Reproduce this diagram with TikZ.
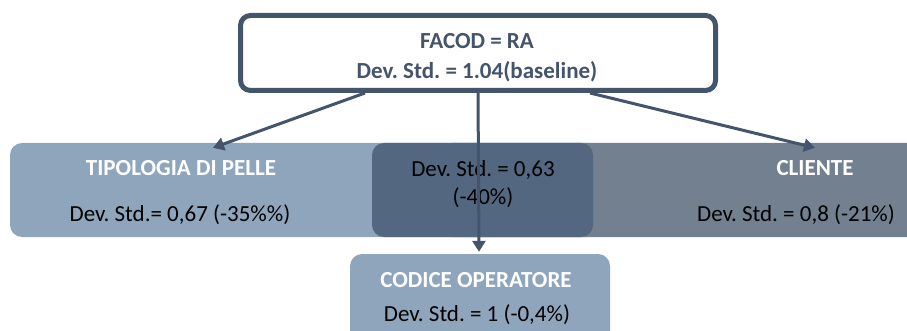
\documentclass[tikz,border=0pt]{standalone}
\usepackage{fontspec}
\setmainfont{Carlito}
\usetikzlibrary{arrows.meta}
\definecolor{slate}{RGB}{68,84,106}
\definecolor{steel}{RGB}{142,165,188}
\definecolor{dusk}{RGB}{84,103,128}
\definecolor{ash}{RGB}{115,128,143}
\frenchspacing

\tikzset{
  every node/.style={font=\fontsize{23}{28}\selectfont},
  area/.style={rectangle,rounded corners=12pt,inner sep=0pt},
  head/.style={text=white,font=\fontsize{23}{28}\selectfont\bfseries},
  val/.style={text=black,align=center},
  link/.style={draw=slate,line width=3pt,-{Triangle[length=11pt,width=13pt]}}
}

\begin{document}
\begin{tikzpicture}[x=1pt,y=-1pt]
  \useasboundingbox (0,0) rectangle (907,331);

  % the three groups
  \node [area,fill=steel,minimum width=590pt,minimum height=94pt] (pelle) at (305,190) {};
  \node [area,fill=ash,minimum width=490pt,minimum height=94pt] (cliente) at (685,190) {};
  \node [area,fill=dusk,minimum width=221pt,minimum height=94pt] (both) at (482.5,190) {};
  \node [area,fill=steel,minimum width=260pt,minimum height=100pt] (operatore) at (480,304) {};

  \node [head] (pelleT) at (181,168) {TIPOLOGIA DI PELLE};
  \node [val] (pelleV) at (180,215) {Dev. Std.= 0,67 (-35\%\%)};
  \node [val] (bothV) at (483,184) {Dev. Std. = 0,63\\(-40\%)};
  \node [head] (clienteT) at (815,168) {CLIENTE};
  \node [val] (clienteV) at (796,215) {Dev. Std. = 0,8 (-21\%)};
  \node [head] (operatoreT) at (476,280) {CODICE OPERATORE};
  \node [val] (operatoreV) at (477,315) {Dev. Std. = 1 (-0,4\%)};

  % root
  \node [draw=slate,line width=5pt,fill=white,rounded corners=10pt,
         minimum width=475pt,minimum height=75pt] (facod) at (478,53) {};
  \node [align=center,text=slate,font=\fontsize{23}{30}\selectfont\bfseries]
        (facodT) at (477,58) {FACOD = RA\\Dev. Std. = 1.04(baseline)};

  \draw [link] ([xshift=-113pt]facod.south) -- ([xshift=-92pt,yshift=-5pt]pelle.north);
  \draw [link] (facod.south) -- ([xshift=-1pt,yshift=2pt]operatore.north);
  \draw [link] ([xshift=112pt]facod.south) -- ([xshift=130pt,yshift=-5pt]cliente.north);
\end{tikzpicture}
\end{document}
